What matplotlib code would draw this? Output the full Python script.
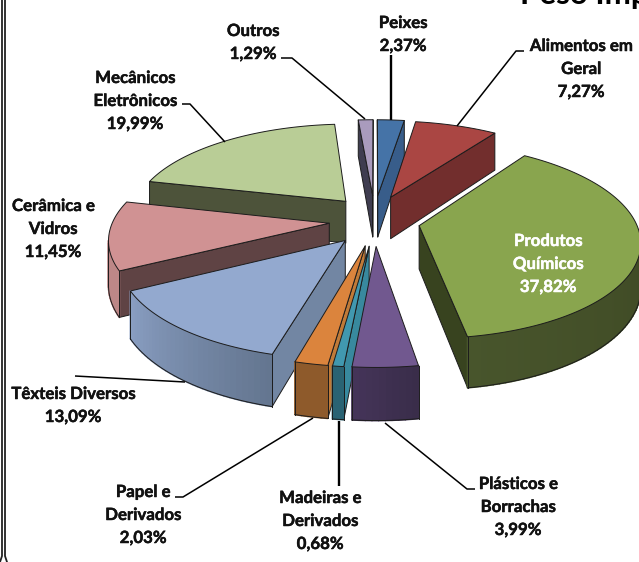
import numpy as np
import matplotlib
matplotlib.use("Agg")
import matplotlib.pyplot as plt
import matplotlib.patheffects as pe
from matplotlib.colors import to_rgb

# clockwise from twelve o'clock, as in the source chart
categories = ["Peixes", "Alimentos em Geral", "Produtos Químicos", "Plásticos e Borrachas",
              "Madeiras e Derivados", "Papel e Derivados", "Têxteis Diversos",
              "Cerâmica e Vidros", "Mecânicos Eletrônicos", "Outros"]
shares = [2.37, 7.27, 37.82, 3.99, 0.68, 2.03, 13.09, 11.45, 19.99, 1.29]
share_labels = ["2,37%", "7,27%", "37,82%", "3,99%", "0,68%", "2,03%", "13,09%", "11,45%", "19,99%", "1,29%"]
name_lines = [["Peixes"], ["Alimentos em", "Geral"], ["Produtos", "Químicos"], ["Plásticos e", "Borrachas"],
              ["Madeiras e", "Derivados"], ["Papel e", "Derivados"], ["Têxteis Diversos"],
              ["Cerâmica e", "Vidros"], ["Mecânicos", "Eletrônicos"], ["Outros"]]

# top, cut face, outer wall at start angle, outer wall at end angle
colors = [
    ("#4573A7", "#385D8A", "#385D8A", "#385D8A"),
    ("#AA4643", "#722E2D", "#722E2D", "#722E2D"),
    ("#89A54E", "#38431F", "#37401E", "#48552C"),
    ("#71588F", "#3E3150", "#3A2D4A", "#45355A"),
    ("#4198AF", "#38899E", "#2A6373", "#2A6373"),
    ("#DB843D", "#C07A38", "#8E5A2B", "#8E5A2B"),
    ("#93A9CF", "#7286A3", "#647690", "#8A9FC3"),
    ("#D09293", "#5F4344", "#BD8787", "#BD8787"),
    ("#B9CD96", "#4D533A", "#4D533A", "#4D533A"),
    ("#A99BBD", "#3F3D50", "#3F3D50", "#3F3D50"),
]

# label centre per slice (first line), line pitch is LINE_H
label_pos = [(403, 23), (581, 46), (548, 241), (518, 484), (320, 498),
             (143, 492), (73, 394), (53, 206), (135, 78), (253, 31)]
leaders = [
    [(391, 55), (391, 120)],
    [(524, 51), (516, 51), (457, 126)],
    [],
    [(475, 489), (467, 489), (385, 423)],
    [(339, 421), (339, 486)],
    [(175, 497), (183, 497), (313, 418)],
    [(75, 376), (185, 382)],
    [],
    [(182, 104), (190, 104), (225, 142)],
    [(281, 58), (292, 58), (365, 119)],
]
thick_leaders = [0, 4]

# projection of the pie onto the 639x562 pixel canvas
CX, CY = 374.5, 220
RX, RY = 216, 94
PERSP = 0.15
EXPLODE_X, EXPLODE_Y = 0.21, 0.27
DEPTH = 43
LINE_H = 23
EDGE = "#1c1c1c"
FONT = ["Lato", "DejaVu Sans"]


def project(x, y):
    s = 1 / (1 + PERSP * y)
    return CX + RX * x * s, CY - RY * y * s, DEPTH * s


def wall(ax, a, b, color, outline=True):
    # a, b are (x, y, depth); clockwise travel seen from above, so only right-to-left edges face us
    if b[0] >= a[0]:
        return
    xs = [a[0], b[0], b[0], a[0]]
    ys = [a[1], b[1], b[1] + b[2], a[1] + a[2]]
    ax.fill(xs, ys, facecolor=color, edgecolor=EDGE if outline else color,
            linewidth=0.7 if outline else 1.2, joinstyle="round")


def draw_slice(ax, start, end, cols):
    mid = (start + end) / 2
    ox, oy = EXPLODE_X * np.sin(mid), EXPLODE_Y * np.cos(mid)
    thetas = np.linspace(start, end, max(3, int(np.degrees(end - start) / 1.5) + 2))
    apex = project(ox, oy)
    rim = [project(ox + np.sin(t), oy + np.cos(t)) for t in thetas]

    # cut faces
    wall(ax, apex, rim[0], cols[1])
    wall(ax, rim[-1], apex, cols[1])

    # outer wall, shaded step by step
    c0, c1 = np.array(to_rgb(cols[2])), np.array(to_rgb(cols[3]))
    n = len(rim) - 1
    for i in range(n):
        wall(ax, rim[i], rim[i + 1], tuple(c0 + (c1 - c0) * i / n), outline=False)
    front = [(p, q) for p, q in zip(rim[:-1], rim[1:]) if q[0] < p[0]]
    if front:
        xs = [front[0][0][0]] + [q[0] for _, q in front]
        ys = [front[0][0][1] + front[0][0][2]] + [q[1] + q[2] for _, q in front]
        ax.plot(xs, ys, color=EDGE, lw=0.7)
        ax.plot([xs[0], xs[0]], [front[0][0][1], ys[0]], color=EDGE, lw=0.7)
        ax.plot([xs[-1], xs[-1]], [front[-1][1][1], ys[-1]], color=EDGE, lw=0.7)

    ax.fill([apex[0]] + [p[0] for p in rim], [apex[1]] + [p[1] for p in rim],
            facecolor=cols[0], edgecolor=EDGE, linewidth=0.7, joinstyle="round")


fig = plt.figure(figsize=(6.39, 5.62), dpi=100)
ax = fig.add_axes([0, 0, 1, 1])
ax.set_xlim(0, 639)
ax.set_ylim(562, 0)
ax.axis("off")

edges = np.cumsum([0] + shares) / sum(shares) * 2 * np.pi
mids = (edges[:-1] + edges[1:]) / 2

# painter's order: back slices first
for i in np.argsort(-np.cos(mids)):
    draw_slice(ax, edges[i], edges[i + 1], colors[i])

for i, pts in enumerate(leaders):
    if pts:
        xs, ys = zip(*pts)
        ax.plot(xs, ys, color="black", lw=1.7 if i in thick_leaders else 1.1, solid_capstyle="butt")

for i, (x, y) in enumerate(label_pos):
    color = "white" if categories[i] == "Produtos Químicos" else "#111111"
    for j, line in enumerate(name_lines[i] + [share_labels[i]]):
        t = ax.text(x, y + j * LINE_H, line, ha="center", va="center", fontsize=12.1,
                    fontweight="bold", family=FONT, color=color)
        # the source face is heavier than Lato Bold
        t.set_path_effects([pe.withStroke(linewidth=0.35, foreground=color)])

# title runs off the top of the crop
ax.text(520, 4, "Peso Importado", ha="left", va="baseline", fontsize=22.5,
        fontweight="bold", family=FONT, color="black", clip_on=True)

# double rule on the left edge, flaring at the foot
ax.plot([2, 2, 0], [0, 556, 562], color="#222222", lw=1.3)
ax.plot([5, 5, 7], [0, 556, 562], color="#222222", lw=1.3)

fig.savefig("out.png", dpi=100)
